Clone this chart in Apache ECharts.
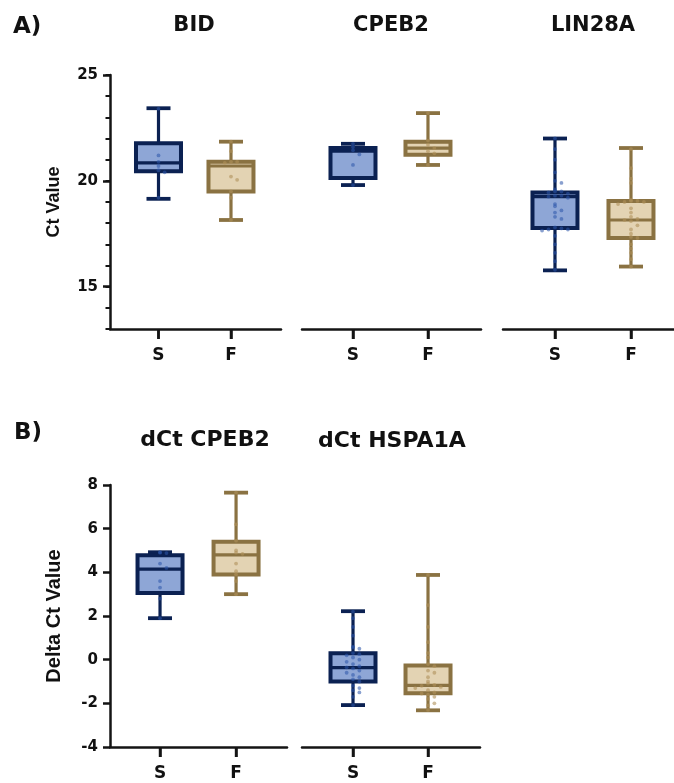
<!DOCTYPE html>
<html><head><meta charset="utf-8">
<script src="https://cdn.jsdelivr.net/npm/echarts@6/dist/echarts.min.js"></script>
<style>html,body{margin:0;padding:0;background:#fff}#c{width:674px;height:783px}</style>
</head><body><div id="c"></div>
<script>
// ---------- DATA ----------
const groups = ['S', 'F'];
const ticksA = [15, 20, 25];
const ticksB = [-4, -2, 0, 2, 4, 6, 8];
// box summaries: [min, q1, median, q3, max]
const BID_S = [19.15, 20.45, 20.85, 21.78, 23.43];
const BID_F = [18.15, 19.5, 20.7, 20.9, 21.85];
const CPEB2_S = [19.8, 20.13, 21.4, 21.55, 21.75];
const CPEB2_F = [20.75, 21.23, 21.55, 21.85, 23.2];
const LIN28A_S = [15.77, 17.77, 19.25, 19.45, 22.0];
const LIN28A_F = [15.95, 17.3, 18.15, 19.05, 21.55];
const dCPEB2_S = [1.9, 3.05, 4.15, 4.78, 4.92];
const dCPEB2_F = [3.0, 3.9, 4.8, 5.4, 7.65];
const dHSPA1A_S = [-2.08, -1.0, -0.36, 0.29, 2.22];
const dHSPA1A_F = [-2.32, -1.54, -1.18, -0.27, 3.88];
// individual points (read approximately)
const BID_S_pts = [23.4, 21.2, 20.9, 20.7, 20.5, 20.4, 19.2];
const BID_F_pts = [21.85, 21.4, 20.9, 20.9, 20.85, 20.2, 20.05, 19.5, 19.2, 18.15];
const CPEB2_S_pts = [21.75, 21.6, 21.45, 21.25, 20.75, 19.8];
const CPEB2_F_pts = [23.2, 21.9, 21.7, 21.55, 21.4, 21.3, 20.75];
const LIN28A_S_pts = [22.0, 21.5, 21.0, 20.4, 20.0, 19.9, 19.6, 19.5, 19.5, 19.45, 19.4, 19.3, 19.3, 19.25, 19.2, 18.9, 18.8, 18.6, 18.5, 18.3, 18.2, 17.8, 17.75, 17.7, 17.7, 17.65, 17.4, 17.0, 16.6, 16.2, 15.8];
const LIN28A_F_pts = [21.5, 20.6, 20.1, 19.9, 19.1, 19.05, 19.05, 19.0, 19.0, 18.9, 18.7, 18.5, 18.3, 18.2, 18.15, 18.1, 17.9, 17.7, 17.5, 17.35, 17.3, 17.0, 16.8, 16.6, 16.3, 15.95];
const dCPEB2_S_pts = [4.92, 4.9, 4.88, 4.4, 4.2, 3.6, 3.3, 2.8, 1.9];
const dCPEB2_F_pts = [7.65, 6.2, 5.45, 5.0, 4.9, 4.85, 4.4, 4.05, 3.9, 3.6, 3.0];
const dHSPA1A_S_pts = [2.2, 1.9, 1.5, 1.1, 0.6, 0.55, 0.5, 0.3, 0.25, 0.2, 0.1, 0.0, -0.1, -0.2, -0.3, -0.35, -0.4, -0.5, -0.6, -0.7, -0.8, -0.9, -1.0, -1.2, -1.3, -1.4, -1.5, -1.7, -2.08];
const dHSPA1A_F_pts = [3.88, 2.5, 1.5, 0.8, 0.3, 0.1, -0.2, -0.3, -0.5, -0.6, -0.8, -1.0, -1.1, -1.15, -1.2, -1.25, -1.3, -1.4, -1.5, -1.55, -1.6, -1.7, -1.8, -2.0, -2.1, -2.3];

// ---------- STYLE / LAYOUT ----------
const FONT = '"DejaVu Sans", sans-serif';
const AFONT = '"Liberation Sans", Arial, sans-serif';
const AX = '#141414';
const COL = [
  { fill: '#8ea6d6', stroke: '#0b2152', dot: 'rgba(45,85,170,0.7)' },
  { fill: '#e3d3b3', stroke: '#8a7242', dot: 'rgba(175,145,90,0.75)' }
];
const panels = [
  { title: 'BID', box: [BID_S, BID_F], pts: [BID_S_pts, BID_F_pts], grid: { left: 110, top: 75, width: 171, height: 254 }, xr: [-0.669, 1.69], yr: [13, 25], showY: true, name: 'Ct Value', ticks: ticksA, tx: 194, ty: 26, ts: 21 },
  { title: 'CPEB2', box: [CPEB2_S, CPEB2_F], pts: [CPEB2_S_pts, CPEB2_F_pts], grid: { left: 302, top: 75, width: 179, height: 254 }, xr: [-0.68, 1.707], yr: [13, 25], showY: false, tx: 391, ty: 26, ts: 21 },
  { title: 'LIN28A', box: [LIN28A_S, LIN28A_F], pts: [LIN28A_S_pts, LIN28A_F_pts], grid: { left: 503, top: 75, width: 171, height: 254 }, xr: [-0.684, 1.566], yr: [13, 25], showY: false, tx: 593, ty: 26, ts: 21 },
  { title: 'dCt CPEB2', box: [dCPEB2_S, dCPEB2_F], pts: [dCPEB2_S_pts, dCPEB2_F_pts], grid: { left: 110, top: 485, width: 177, height: 262 }, xr: [-0.658, 1.67], yr: [-4, 8], showY: true, name: 'Delta Ct Value', ticks: ticksB, tx: 205, ty: 440, ts: 22 },
  { title: 'dCt HSPA1A', box: [dHSPA1A_S, dHSPA1A_F], pts: [dHSPA1A_S_pts, dHSPA1A_F_pts], grid: { left: 302, top: 485, width: 178, height: 262 }, xr: [-0.68, 1.693], yr: [-4, 8], showY: false, tx: 392, ty: 441, ts: 22 }
];

// simple beeswarm layout: points of similar value are spread sideways
function swarm(vals, bin, step, base) {
  const counts = {};
  return vals.map(v => {
    const b = Math.round(v / bin);
    const n = counts[b] = (counts[b] || 0) + 1;
    const k = n - 1;
    const off = k === 0 ? 0 : (k % 2 ? 1 : -1) * Math.ceil(k / 2) * step;
    return [base + off, v];
  });
}

function boxRender(params, api) {
  const xi = api.value(0);
  const v = [1, 2, 3, 4, 5].map(i => api.value(i));
  const p = v.map(val => api.coord([xi, val]));
  const cx = p[0][0];
  const bw = 45, cw = 24;
  const c = COL[xi];
  const ls = { stroke: c.stroke, lineWidth: 3.2 };
  const cs = params.coordSys;
  const axisY = cs.y + cs.height;
  return {
    type: 'group',
    children: [
      // category tick below the axis line
      { type: 'line', shape: { x1: cx, y1: axisY, x2: cx, y2: axisY + 10 }, style: { stroke: AX, lineWidth: 2.5 } },
      { type: 'line', shape: { x1: cx, y1: p[4][1], x2: cx, y2: p[3][1] }, style: ls },
      { type: 'line', shape: { x1: cx, y1: p[1][1], x2: cx, y2: p[0][1] }, style: ls },
      { type: 'line', shape: { x1: cx - cw / 2, y1: p[4][1], x2: cx + cw / 2, y2: p[4][1] }, style: { stroke: c.stroke, lineWidth: 3.8 } },
      { type: 'line', shape: { x1: cx - cw / 2, y1: p[0][1], x2: cx + cw / 2, y2: p[0][1] }, style: { stroke: c.stroke, lineWidth: 3.8 } },
      { type: 'rect', shape: { x: cx - bw / 2, y: p[3][1], width: bw, height: p[1][1] - p[3][1] }, style: { fill: c.fill, stroke: c.stroke, lineWidth: 4 } },
      { type: 'line', shape: { x1: cx - bw / 2, y1: p[2][1], x2: cx + bw / 2, y2: p[2][1] }, style: { stroke: c.stroke, lineWidth: 3.2 } }
    ]
  };
}

const grid = [], xAxis = [], yAxis = [], series = [], graphic = [];
panels.forEach((pn, i) => {
  grid.push(Object.assign({ containLabel: false }, pn.grid));
  xAxis.push({
    type: 'value', gridIndex: i, min: pn.xr[0], max: pn.xr[1],
    axisLine: { show: true, onZero: false, lineStyle: { color: AX, width: 2.5 } },
    axisTick: { show: true, length: 10, lineStyle: { color: AX, width: 2.5 }, customValues: [0, 1] },
    axisLabel: { customValues: [0, 1], formatter: v => groups[Math.round(v)] || '', color: '#111', fontFamily: FONT, fontWeight: 'bold', fontSize: 17, margin: 18 },
    splitLine: { show: false }
  });
  yAxis.push({
    type: 'value', gridIndex: i, min: pn.yr[0], max: pn.yr[1], show: pn.showY,
    name: pn.name || '', nameLocation: 'middle', nameRotate: 90, nameGap: i === 0 ? 47 : 46,
    nameTextStyle: { fontFamily: AFONT, fontWeight: 'bold', fontSize: i === 0 ? 18 : 20, color: '#111' },
    axisLine: { show: true, onZero: false, lineStyle: { color: AX, width: 2.5 } },
    axisTick: { show: true, length: 7, lineStyle: { color: AX, width: 2.5 }, customValues: pn.ticks },
    axisLabel: { customValues: pn.ticks, color: '#111', fontFamily: FONT, fontWeight: 'bold', fontSize: 15, margin: 12 },
    splitLine: { show: false }
  });
  series.push({
    type: 'custom', xAxisIndex: i, yAxisIndex: i, renderItem: boxRender, clip: false, z: 2,
    encode: { x: 0, y: [1, 2, 3, 4, 5] },
    data: pn.box.map((b, g) => [g].concat(b))
  });
  pn.pts.forEach((arr, g) => {
    series.push({
      type: 'scatter', xAxisIndex: i, yAxisIndex: i, z: 3, symbolSize: 3.8, silent: true,
      itemStyle: { color: COL[g].dot },
      data: swarm(arr, (pn.yr[1] - pn.yr[0]) * 0.02, 0.085, g)
    });
  });
  graphic.push({ type: 'text', x: pn.tx, y: pn.ty, style: { text: pn.title, font: 'bold ' + pn.ts + 'px ' + FONT, fill: '#111', textAlign: 'center', textVerticalAlign: 'middle' } });
});
// minor ticks for panel A y axis
yAxis.push({
  type: 'value', gridIndex: 0, min: 13, max: 25, interval: 1, position: 'left',
  axisLine: { show: false, onZero: false }, axisLabel: { show: false }, splitLine: { show: false },
  axisTick: { show: true, length: 4.5, lineStyle: { color: AX, width: 2 } }
});
graphic.push({ type: 'text', x: 13, y: 27, style: { text: 'A)', font: 'bold 23px ' + FONT, fill: '#111', textAlign: 'left', textVerticalAlign: 'middle' } });
graphic.push({ type: 'text', x: 14, y: 433, style: { text: 'B)', font: 'bold 23px ' + FONT, fill: '#111', textAlign: 'left', textVerticalAlign: 'middle' } });

const chart = echarts.init(document.getElementById('c'));
chart.setOption({ animation: false, backgroundColor: '#fff', grid, xAxis, yAxis, series, graphic });
</script>
</body></html>
